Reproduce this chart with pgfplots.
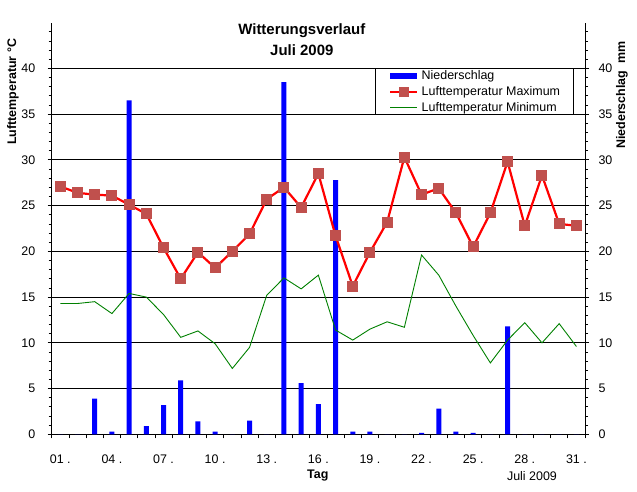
\documentclass[border=0pt]{standalone}
\usepackage{pgfplots}
\usepackage{pgfplotstable}
\pgfplotsset{compat=1.18}
\usepackage{fontspec}
\setmainfont{Liberation Sans}
\definecolor{markred}{RGB}{192,80,77}
\definecolor{mingreen}{RGB}{0,128,0}

% Tag, Niederschlag (mm), Tmax, Tmin
\pgfplotstableread{
tag  nied  tmax  tmin
1    0     27.1  14.3
2    0     26.4  14.3
3    3.9   26.2  14.5
4    0.3   26.1  13.2
5    36.5  25.1  15.4
6    0.9   24.1  15.0
7    3.2   20.4  13.1
8    5.9   17.0  10.6
9    1.4   19.9  11.3
10   0.3   18.2  9.9
11   0     20.0  7.2
12   1.5   21.9  9.5
13   0     25.7  15.2
14   38.5  27.0  17.1
15   5.6   24.8  15.9
16   3.3   28.5  17.4
17   27.8  21.7  11.4
18   0.3   16.2  10.3
19   0.3   19.9  11.5
20   0     23.2  12.3
21   0     30.3  11.7
22   0.15  26.2  19.6
23   2.8   26.9  17.4
24   0.3   24.2  14.0
25   0.15  20.5  10.8
26   0     24.2  7.8
27   11.8  29.8  10.3
28   0     22.8  12.2
29   0     28.3  10.0
30   0     23.0  12.1
31   0     22.8  9.6
}\wetter

\pgfplotsset{
  frame/.style={
    scale only axis, width=533.3bp, height=411.6bp,
    at={(51.7bp,57.7bp)}, anchor=south west,
    xmin=0.5, xmax=31.5, ymin=0, ymax=45,
    ytick={0,5,...,40}, minor ytick={1,...,44},
    tick align=outside, major tick length=4bp, minor tick length=3bp,
    tick style={black, line width=0.8bp},
    axis line style={black, line width=0.8bp},
    ticklabel style={font=\fontsize{12.5}{14}\selectfont},
    /pgf/number format/assume math mode=true,
  },
}

\begin{document}
\begin{tikzpicture}
\path[use as bounding box] (0,0) rectangle (637bp,492bp);

\begin{axis}[frame,
  axis x line*=bottom, axis y line*=left,
  xtick={0.5,1.5,...,31.5}, xticklabels={},
  extra x ticks={1,4,...,31},
  extra x tick labels={01 .,04 .,07 .,10 .,13 .,16 .,19 .,22 .,25 .,28 .,31 .},
  extra x tick style={major tick length=0pt, xticklabel style={yshift=-17bp}},
  yticklabel style={xshift=-9bp},
  ymajorgrids, grid style={black, line width=0.8bp},
  title={Witterungsverlauf\\Juli 2009},
  title style={at={(0.469,0.944)}, anchor=center, align=center,
    font=\bfseries\fontsize{15}{21}\selectfont},
  xlabel={Tag},
  xlabel style={at={(0.499,-0.1)}, anchor=center, font=\bfseries\fontsize{12.5}{14}\selectfont},
  ylabel={Lufttemperatur °C},
  ylabel style={at={(-0.0726,0.832)}, anchor=center, font=\bfseries\fontsize{12.5}{14}\selectfont},
  extra description/.code={
    \node[font=\fontsize{12.5}{14}\selectfont] at (0.9006,-0.1013) {Juli 2009};
  },
  legend style={at={(0.9794,0.8889)}, anchor=north east, draw=black, fill=white,
    line width=0.8bp, font=\fontsize{12.5}{14}\selectfont,
    inner xsep=12bp, inner ysep=0bp, row sep=2.5bp,
    nodes={inner sep=1.5bp}},
  legend cell align=left,
]
\addplot[ybar, bar width=5bp, fill=blue, draw=none,
  legend image code/.code={\draw[blue, line width=6bp] (0bp,0bp) -- (27bp,0bp);}]
  table[x=tag, y=nied] {\wetter};
\addlegendentry{Niederschlag}
\addplot[red, line width=2.2bp, mark=square*, mark size=5bp,
  mark options={fill=markred, draw=markred, line width=0bp},
  legend image code/.code={\draw[red, line width=2bp] (0bp,0bp) -- (27bp,0bp);
    \fill[markred] (9.5bp,-4bp) rectangle (17.5bp,4bp);}]
  table[x=tag, y=tmax] {\wetter};
\addlegendentry{Lufttemperatur Maximum}
\addplot[mingreen, line width=0.9bp,
  legend image code/.code={\draw[mingreen, line width=0.9bp] (0bp,0bp) -- (27bp,0bp);}]
  table[x=tag, y=tmin] {\wetter};
\addlegendentry{Lufttemperatur Minimum}
\end{axis}

\begin{axis}[frame,
  axis x line=none, axis y line*=right,
  yticklabel style={xshift=6bp},
  ylabel={Niederschlag\ \ mm},
  ylabel style={at={(1.069,0.824)}, anchor=center, font=\bfseries\fontsize{12.5}{14}\selectfont},
]
\end{axis}
\end{tikzpicture}
\end{document}
